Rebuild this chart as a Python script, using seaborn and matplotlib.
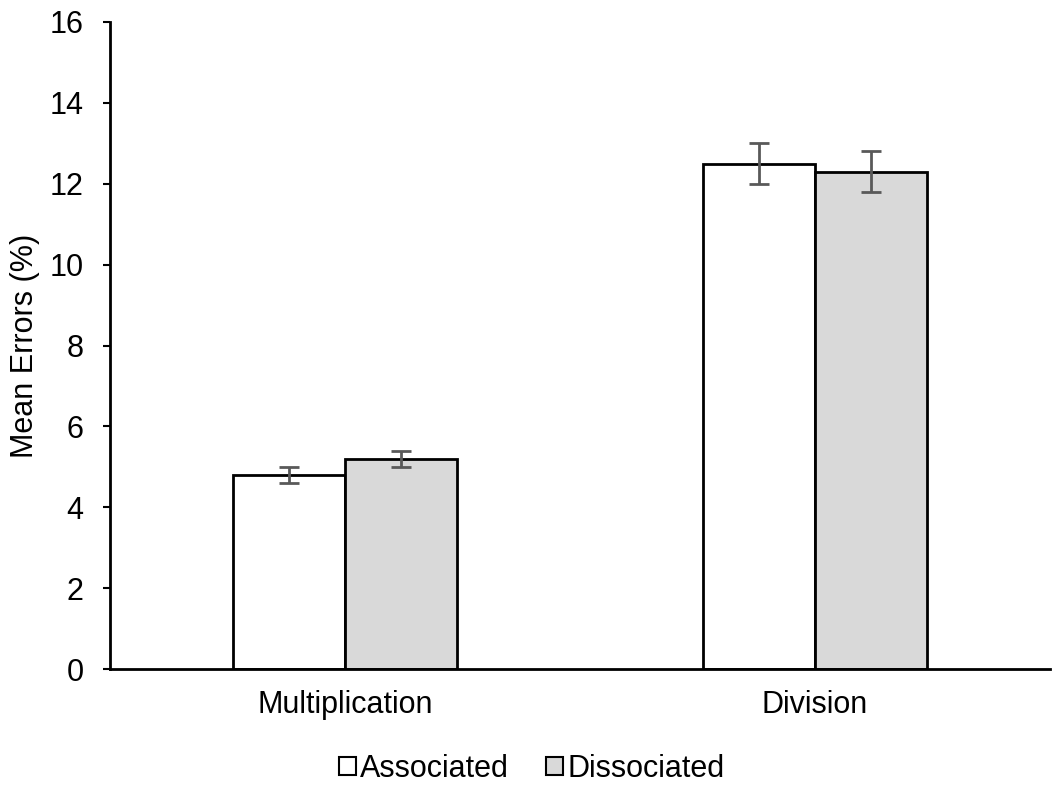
import matplotlib
matplotlib.use("Agg")
import matplotlib.pyplot as plt
import seaborn as sns
import pandas as pd
import numpy as np
from matplotlib.patches import Patch

operations = ["Multiplication", "Division"]
conditions = ["Associated", "Dissociated"]
associated_means = [4.8, 12.5]
dissociated_means = [5.2, 12.3]
associated_err = [0.2, 0.5]
dissociated_err = [0.2, 0.5]
y_ticks = [0, 2, 4, 6, 8, 10, 12, 14, 16]

df = pd.DataFrame({
    "Operation": operations * 2,
    "Condition": [conditions[0]] * 2 + [conditions[1]] * 2,
    "Mean": associated_means + dissociated_means,
    "Err": associated_err + dissociated_err,
})

sns.set_theme(style="white")
plt.rcParams["font.family"] = ["Liberation Sans", "DejaVu Sans"]
plt.rcParams["text.color"] = "black"

fig = plt.figure(figsize=(10.63, 7.94), dpi=100)
ax = fig.add_axes([0.1035, 0.1574, 0.8843, 0.8149])

palette = {"Associated": "#FFFFFF", "Dissociated": "#D9D9D9"}
sns.barplot(data=df, x="Operation", y="Mean", hue="Condition", order=operations,
            hue_order=conditions, palette=palette, errorbar=None, width=0.477,
            edgecolor="black", linewidth=2, saturation=1, ax=ax, legend=False)

# error bars at the bar centres
for cond, container in zip(conditions, ax.containers):
    sub = df[df["Condition"] == cond].set_index("Operation").loc[operations]
    xs = [p.get_x() + p.get_width() / 2 for p in container.patches]
    ax.errorbar(xs, sub["Mean"].values, yerr=sub["Err"].values, fmt="none",
                ecolor="#595959", elinewidth=2, capsize=7, capthick=2, zorder=5)

fs = 22
ax.set_ylim(0, 16)
ax.set_xlim(-0.5, 1.5)
ax.set_yticks(y_ticks)
ax.set_yticklabels([str(t) for t in y_ticks], fontsize=fs)
ax.tick_params(axis="y", which="major", direction="out", length=5, width=1.5,
               color="black", pad=14, left=True)
ax.tick_params(axis="x", length=0, pad=15, labelsize=fs)
for lbl in ax.get_xticklabels() + ax.get_yticklabels():
    lbl.set_color("black")

ax.set_xlabel("")
ax.set_ylabel("Mean Errors (%)", fontsize=fs, color="black")
ax.yaxis.set_label_coords(-0.0745, 0.5)

for s in ["top", "right"]:
    ax.spines[s].set_visible(False)
for s in ["left", "bottom"]:
    ax.spines[s].set_color("black")
    ax.spines[s].set_linewidth(2)

handles = [Patch(facecolor=palette[c], edgecolor="black", linewidth=1.5, label=c)
           for c in conditions]
leg = fig.legend(handles=handles, loc="center", bbox_to_anchor=(0.5, 0.032), ncol=2,
                 frameon=False, fontsize=fs, handlelength=0.55, handleheight=0.55,
                 handletextpad=0.15, columnspacing=1.2)
for t in leg.get_texts():
    t.set_color("black")

fig.savefig("out.png", dpi=100)
